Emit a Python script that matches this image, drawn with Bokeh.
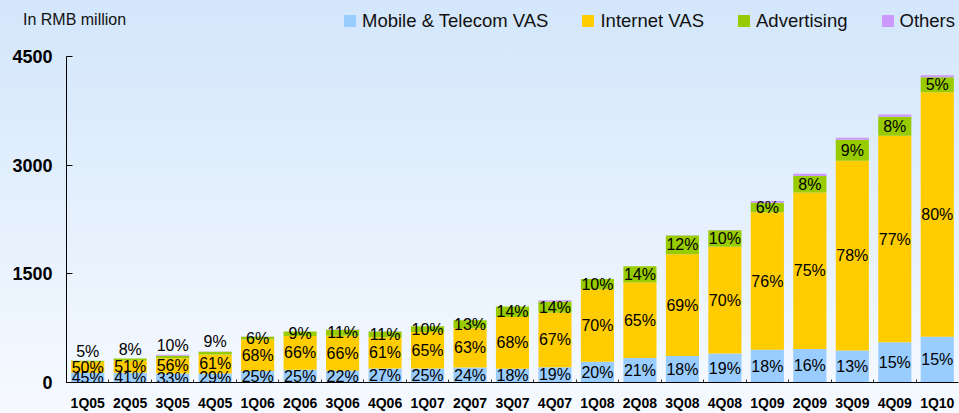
from bokeh.plotting import figure
from bokeh.layouts import column
from bokeh.models import ColumnDataSource, Range1d, FixedTicker, Div
from bokeh.core.properties import value
from bokeh.embed import file_html
from bokeh.resources import INLINE
import html as _html

# ---- data (RMB million) ----
quarters = ["1Q05", "2Q05", "3Q05", "4Q05", "1Q06", "2Q06", "3Q06", "4Q06",
            "1Q07", "2Q07", "3Q07", "4Q07", "1Q08", "2Q08", "3Q08", "4Q08",
            "1Q09", "2Q09", "3Q09", "4Q09", "1Q10"]
mobile = [135, 135, 124, 125, 160, 176, 162, 192, 194, 206, 189, 212,
          286, 337, 366, 400, 451, 461, 440, 555, 630]
internet = [150, 168, 210, 262, 435, 465, 485, 433, 504, 542, 714, 752,
            1001, 1043, 1404, 1474, 1899, 2160, 2620, 2850, 3375]
advertising = [15, 27, 34, 39, 38, 63, 81, 78, 77, 112, 147, 155,
               143, 225, 260, 226, 130, 229, 290, 265, 207]
others = [0, 0, 16, 3, 3, 0, 3, 3, 0, 0, 0, 16,
          0, 0, 4, 4, 25, 30, 30, 30, 28]
pct_mobile = [45, 41, 33, 29, 25, 25, 22, 27, 25, 24, 18, 19,
              20, 21, 18, 19, 18, 16, 13, 15, 15]
pct_internet = [50, 51, 56, 61, 68, 66, 66, 61, 65, 63, 68, 67,
                70, 65, 69, 70, 76, 75, 78, 77, 80]
pct_advertising = [5, 8, 10, 9, 6, 9, 11, 11, 10, 13, 14, 14,
                   10, 14, 12, 10, 6, 8, 9, 8, 5]
series_names = ["Mobile & Telecom VAS", "Internet VAS", "Advertising", "Others"]
series_colors = ["#99ccff", "#ffcc00", "#99cc00", "#cc99ff"]
y_ticks = [0, 1500, 3000, 4500]
unit_text = "In RMB million"

FONT = "Liberation Sans"
n = len(quarters)
xs = list(range(n))
W, H = 959, 413
HEAD_H = 46

# ---- header strip: unit note + legend (HTML text) ----
items_html = "".join(
    f'<div style="display:flex;align-items:center;gap:6px;">'
    f'<span style="display:inline-block;width:12px;height:12px;background:{c};"></span>'
    f'<span>{_html.escape(nm)}</span></div>'
    for nm, c in zip(series_names, series_colors))
head_html = (
    f'<div style="position:relative;width:{W}px;height:{HEAD_H}px;overflow:hidden;'
    f'font-family:\'{FONT}\';color:#111111;">'
    f'<div style="position:absolute;left:23px;top:11px;font-size:16px;line-height:normal;'
    f'white-space:nowrap;">{_html.escape(unit_text)}</div>'
    f'<div style="position:absolute;left:344px;top:10px;display:flex;align-items:center;'
    f'gap:34px;font-size:18.5px;line-height:normal;white-space:nowrap;">{items_html}</div>'
    f'</div>')
head = Div(text=head_html, width=W, height=HEAD_H, margin=0)

# ---- main chart ----
src = ColumnDataSource(dict(x=xs, mobile=mobile, internet=internet,
                            advertising=advertising, others=others))

p = figure(width=W, height=H - HEAD_H,
           x_range=Range1d(-0.5, n - 0.5), y_range=Range1d(0, 4500),
           output_backend="svg", toolbar_location=None,
           min_border_left=66, min_border_right=1,
           min_border_top=10, min_border_bottom=31)
p.background_fill_color = None
p.border_fill_color = None
p.outline_line_color = None
p.xgrid.visible = False
p.ygrid.visible = False

rends = p.vbar_stack(["mobile", "internet", "advertising", "others"], x="x",
                     width=0.78, source=src, fill_color=series_colors,
                     line_color=None)

# ---- percentage labels ----
lab_x, lab_y, lab_t = [], [], []
top_x, top_y, top_t = [], [], []
for i in range(n):
    m, it, a = mobile[i], internet[i], advertising[i]
    lab_x += [i, i]
    lab_y += [m / 2, m + it / 2]
    lab_t += [f"{pct_mobile[i]}%", f"{pct_internet[i]}%"]
    if i < 4:
        top_x.append(i)
        top_y.append(m + it + a + others[i])
        top_t.append(f"{pct_advertising[i]}%")
    else:
        lab_x.append(i)
        lab_y.append(m + it + a / 2)
        lab_t.append(f"{pct_advertising[i]}%")

p.text(x="x", y="y", text="t",
       source=ColumnDataSource(dict(x=lab_x, y=lab_y, t=lab_t)),
       text_font=value(FONT), text_font_size="16px", text_color="black",
       text_align="center", text_baseline="middle")
p.text(x="x", y="y", text="t",
       source=ColumnDataSource(dict(x=top_x, y=top_y, t=top_t)),
       text_font=value(FONT), text_font_size="16px", text_color="black",
       text_align="center", text_baseline="bottom", y_offset=-1)

# ---- axes ----
xa = p.xaxis[0]
xa.ticker = FixedTicker(ticks=xs, minor_ticks=[i + 0.5 for i in range(n - 1)])
xa.major_label_overrides = {i: q for i, q in enumerate(quarters)}
xa.major_tick_line_color = None
xa.minor_tick_in = 3
xa.minor_tick_out = 0
xa.minor_tick_line_color = "#333333"
xa.axis_line_color = "black"
xa.major_label_text_font = FONT
xa.major_label_text_font_style = "bold"
xa.major_label_text_font_size = "14px"
xa.major_label_text_color = "black"
xa.major_label_standoff = 6

ya = p.yaxis[0]
ya.ticker = FixedTicker(ticks=y_ticks)
ya.minor_tick_line_color = None
ya.major_tick_in = 6
ya.major_tick_out = 0
ya.major_tick_line_color = "black"
ya.axis_line_color = "black"
ya.major_label_text_font = FONT
ya.major_label_text_font_style = "bold"
ya.major_label_text_font_size = "18px"
ya.major_label_text_color = "black"
ya.major_label_standoff = 14

layout = column(head, p, spacing=0,
                styles={"background": "linear-gradient(to bottom, #d3e6fb 0%, #e6f1fd 55%, #f6faff 100%)"})

open("out.html", "w").write(file_html(layout, INLINE))
